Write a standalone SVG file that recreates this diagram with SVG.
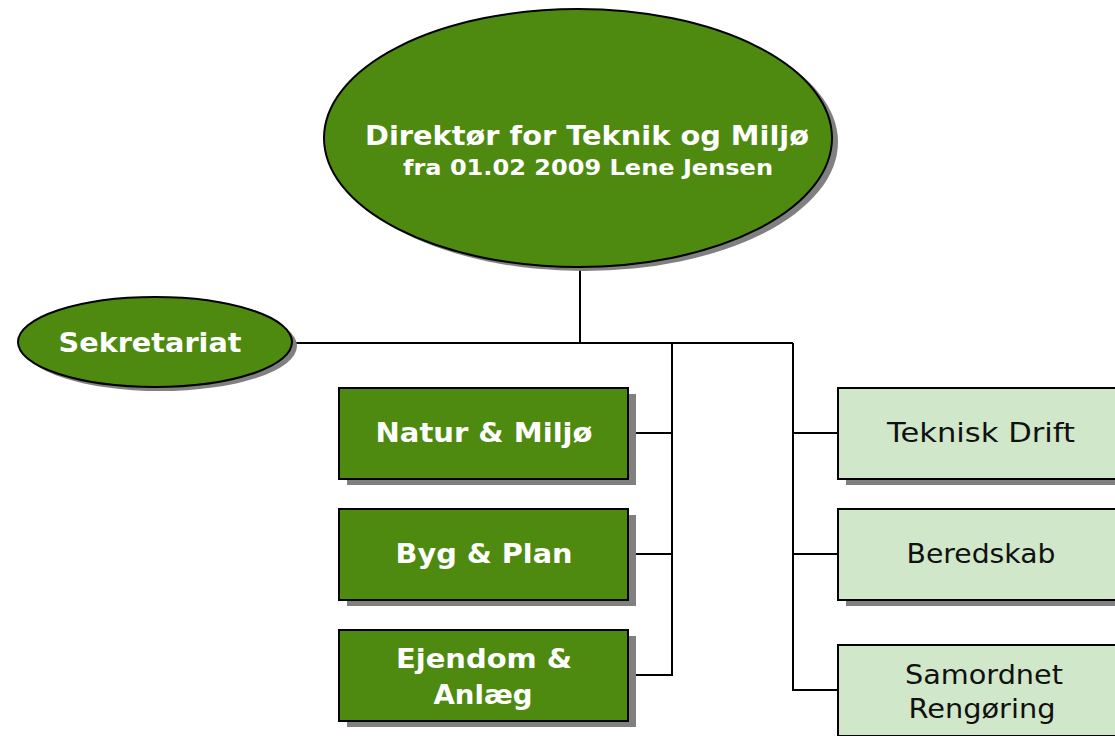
<svg xmlns="http://www.w3.org/2000/svg" width="1115" height="736" viewBox="0 0 1115 736">
<style>
.dk{fill:#4E8A10;stroke:#000;stroke-width:2}
.lt{fill:#D0E7CA;stroke:#000;stroke-width:2}
.sh{fill:#808080}
.wt{fill:#fff;font-family:"DejaVu Sans",Verdana,sans-serif;font-weight:bold;text-anchor:middle}
.bt{fill:#111;font-family:"DejaVu Sans",Verdana,sans-serif;text-anchor:middle}
.ln{fill:none;stroke:#000;stroke-width:2}
</style>
<rect width="1115" height="736" fill="#fff"/>
<g id="connectors">
<path class="ln" d="M580 267V343M293 343H793M672 343V675H628M628 433H672M628 554H672M793 343V690H838M793 433H838M793 554H838"/>
</g>
<g id="director">
<ellipse class="sh" cx="584" cy="142" rx="254" ry="129"/>
<ellipse class="dk" cx="578" cy="138" rx="254" ry="129"/>
<text class="wt" x="587" y="145" font-size="27" textLength="444" lengthAdjust="spacingAndGlyphs">Direktør for Teknik og Miljø</text>
<text class="wt" x="588" y="175" font-size="21" textLength="370" lengthAdjust="spacingAndGlyphs">fra 01.02 2009 Lene Jensen</text>
</g>
<g id="sekretariat">
<ellipse class="sh" cx="160" cy="346" rx="137" ry="45"/>
<ellipse class="dk" cx="155" cy="342" rx="137" ry="45"/>
<text class="wt" x="150" y="352" font-size="27" textLength="183" lengthAdjust="spacingAndGlyphs">Sekretariat</text>
</g>
<g id="natur">
<rect class="sh" x="347" y="394" width="289" height="91"/>
<rect class="dk" x="339" y="388" width="289" height="91"/>
<text class="wt" x="484" y="442" font-size="27" textLength="217" lengthAdjust="spacingAndGlyphs">Natur &amp; Miljø</text>
</g>
<g id="byg">
<rect class="sh" x="347" y="515" width="289" height="91"/>
<rect class="dk" x="339" y="509" width="289" height="91"/>
<text class="wt" x="484" y="563" font-size="27" textLength="177" lengthAdjust="spacingAndGlyphs">Byg &amp; Plan</text>
</g>
<g id="ejendom">
<rect class="sh" x="347" y="636" width="289" height="91"/>
<rect class="dk" x="339" y="630" width="289" height="91"/>
<text class="wt" x="484" y="668" font-size="27" textLength="176" lengthAdjust="spacingAndGlyphs">Ejendom &amp;</text>
<text class="wt" x="483" y="704" font-size="27" textLength="99" lengthAdjust="spacingAndGlyphs">Anlæg</text>
</g>
<g id="teknisk">
<rect class="sh" x="846" y="394" width="289" height="91"/>
<rect class="lt" x="838" y="388" width="289" height="91"/>
<text class="bt" x="981" y="442" font-size="27" textLength="188" lengthAdjust="spacingAndGlyphs">Teknisk Drift</text>
</g>
<g id="beredskab">
<rect class="sh" x="846" y="515" width="289" height="91"/>
<rect class="lt" x="838" y="509" width="289" height="91"/>
<text class="bt" x="981" y="563" font-size="27" textLength="149" lengthAdjust="spacingAndGlyphs">Beredskab</text>
</g>
<g id="samordnet">
<rect class="sh" x="846" y="651" width="289" height="91"/>
<rect class="lt" x="838" y="645" width="289" height="91"/>
<text class="bt" x="984" y="684" font-size="27" textLength="158" lengthAdjust="spacingAndGlyphs">Samordnet</text>
<text class="bt" x="982" y="718" font-size="27" textLength="147" lengthAdjust="spacingAndGlyphs">Rengøring</text>
</g>
</svg>
